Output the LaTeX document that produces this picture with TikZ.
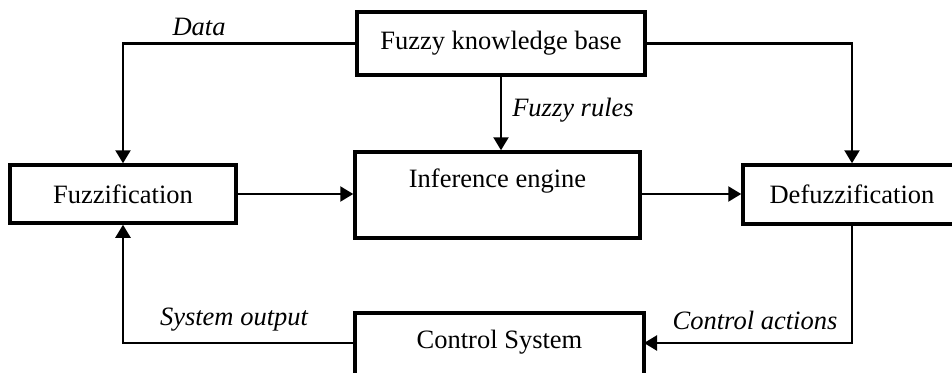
\documentclass[tikz,border=0pt]{standalone}
\usepackage{fontspec}
\setmainfont{Liberation Serif}
\usetikzlibrary{arrows.meta}
\tikzset{
  box/.style={draw, line width=3.5pt, rectangle, inner sep=0pt, fill=white},
  conn/.style={line width=2.3pt, -{Triangle[length=13pt,width=15pt]}},
  lbl/.style={font=\itshape, inner sep=0pt}
}
\begin{document}
\begin{tikzpicture}[x=1pt,y=-1pt]
\fontsize{26.5}{30}\selectfont
\useasboundingbox (0,0) rectangle (952,372);
\clip (0,0) rectangle (952,372);
\node[box, minimum width=288pt, minimum height=63pt] (fkb) at (501,43.5) {Fuzzy knowledge base};
\node[box, minimum width=226pt, minimum height=58pt] (fuzz) at (123,194) {Fuzzification};
\node[box, minimum width=285pt, minimum height=86pt] (inf) at (497.5,195) {};
\node[inner sep=0pt] (inftext) at (497.5,181) {Inference engine};
\node[box, minimum width=218pt, minimum height=59pt] (defuzz) at (852,194.5) {Defuzzification};
\node[box, minimum width=289pt, minimum height=86pt] (ctrl) at (499.5,356) {};
\node[inner sep=0pt] (ctrltext) at (499.5,342) {Control System};
\coordinate (ctrlin) at (644,343);
\coordinate (ctrlout) at (355,343);
% connectors
\draw[conn] (fkb.west) -| (fuzz.north);
\draw[conn] (fkb.east) -| (defuzz.north);
\draw[conn] (fkb.south) -- (fkb.south |- inf.north);
\draw[conn] (fuzz.east) -- (fuzz.east -| inf.west);
\draw[conn] (fuzz.east -| inf.east) -- (fuzz.east -| defuzz.west);
\draw[conn] (defuzz.south) |- (ctrlin);
\draw[conn] (ctrlout) -| (fuzz.south);
% labels
\node[lbl] (ldata) at (199,27) {Data};
\node[lbl] (lrules) at (573,110) {Fuzzy rules};
\node[lbl] (lsys) at (234,320) {System output};
\node[lbl] (lctrl) at (755,320) {Control actions};
\end{tikzpicture}
\end{document}
